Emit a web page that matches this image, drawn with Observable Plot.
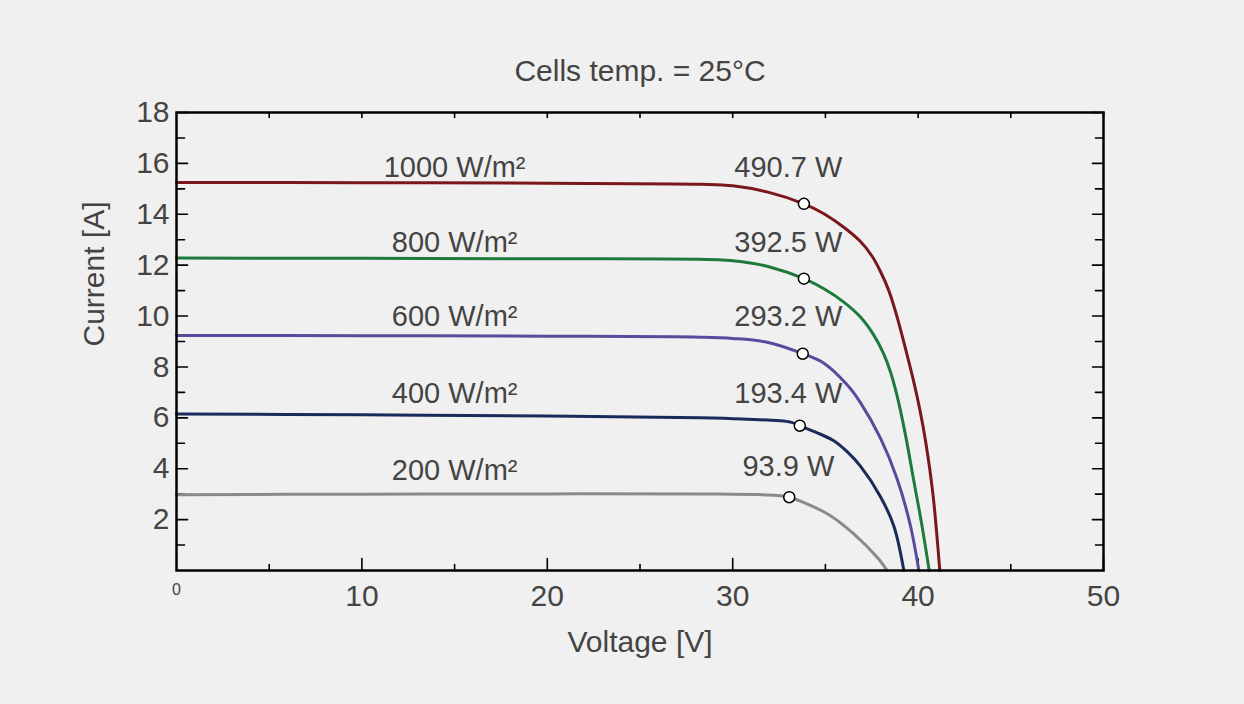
<!DOCTYPE html>
<html><head><meta charset="utf-8">
<script src="https://cdn.jsdelivr.net/npm/d3@7"></script>
<script src="https://cdn.jsdelivr.net/npm/@observablehq/plot@0.6"></script>
<style>
html,body{margin:0;padding:0;background:#f0f0f0;}
#chart svg{display:block;}
</style></head><body><div id="chart"></div>
<script>
// Series names and colours
const series = ["1000 W/m²","800 W/m²","600 W/m²","400 W/m²","200 W/m²"];
const colors = ["#7a171c","#1d7a3b","#5a4a9c","#1a2a5a","#8a8a8a"];

// I-V curves (Voltage [V], Current [A])
const v1000 = [0,10,20,28.3,30,31.9,33.84,34.92,35.99,36.89,37.52,37.97,38.42,38.87,39.32,39.77,40.1,40.4,40.8,41.17];
const i1000 = [15.25,15.24,15.22,15.18,15.12,14.87,14.41,14.02,13.49,12.93,12.35,11.75,11.0,9.96,8.72,7.4,6.3,5.1,3.0,0];
const v800 = [0,10,20,29.2,30.5,32,33.84,34.92,35.99,36.89,37.61,38.15,38.51,38.87,39.3,39.75,40.2,40.6];
const i800 = [12.28,12.27,12.25,12.21,12.13,11.93,11.47,11.07,10.55,9.96,9.25,8.5,7.8,6.85,5.4,3.6,1.8,0];
const v600 = [0,10,20,28.26,30,31.86,33.78,34.92,36.17,36.89,37.97,38.87,39.59,40.04];
const i600 = [9.24,9.23,9.21,9.17,9.12,8.97,8.52,8.15,7.3,6.6,5.2,3.6,1.75,0];
const v400 = [0,10,20,28.26,30.5,33.12,33.62,34.5,35.45,36.2,36.89,37.97,38.69,39.23];
const i400 = [6.15,6.12,6.07,6.0,5.95,5.83,5.69,5.43,5.1,4.65,4.1,2.9,1.75,0];
const v200 = [0,10,20,28.26,32.4,33.05,35.1,36.53,37.79,38.33];
const i200 = [2.98,3.0,3.01,3.01,2.95,2.88,2.23,1.44,0.52,0];

// Maximum power points
const mppV = [33.84,33.84,33.78,33.62,33.05];
const mppI = [14.41,11.47,8.52,5.69,2.88];
const powerLabels = ["490.7 W","392.5 W","293.2 W","193.4 W","93.9 W"];

// Label anchor positions (data units)
const irrLabelV = [15,15,15,15,15];
const irrLabelI = [15.84,12.9,9.96,6.96,3.93];
const powLabelV = [33,33,33,33,33];
const powLabelI = [15.83,12.9,9.96,6.95,4.09];

// Ticks
const xTicks = [10,20,30,40,50];
const xMinor = [5,15,25,35,45];
const yTicks = [2,4,6,8,10,12,14,16,18];
const yMinor = [1,3,5,7,9,11,13,15,17];

const title = "Cells temp. = 25°C";
const xLabel = "Voltage [V]";
const yLabel = "Current [A]";

const curves = [[v1000,i1000],[v800,i800],[v600,i600],[v400,i400],[v200,i200]];
const lineData = curves.flatMap(([v,i],k)=>v.map((x,j)=>({V:x,I:i[j],s:series[k]})));
const mppData = mppV.map((v,k)=>({V:v,I:mppI[k]}));
const irrData = series.map((s,k)=>({V:irrLabelV[k],I:irrLabelI[k],t:s}));
const powData = powerLabels.map((s,k)=>({V:powLabelV[k],I:powLabelI[k],t:s}));

const tickShape = {draw(ctx,l){ctx.moveTo(0,0); ctx.lineTo(0,-l);}};
const tk = (data, opts) => Plot.vector(data, {shape: tickShape, anchor: "start", stroke: "black", strokeWidth: 1.6, ...opts});

const chart = Plot.plot({
  width: 1244, height: 704,
  marginLeft: 176, marginRight: 141, marginTop: 112, marginBottom: 134,
  style: {background: "#f0f0f0", color: "#444", fontFamily: "Liberation Sans, Arial, sans-serif"},
  x: {domain: [0,50], label: null},
  y: {domain: [0,18], label: null},
  color: {domain: series, range: colors},
  marks: [
    Plot.axisX(xTicks, {tickSize: 0, tickPadding: 14, fontSize: 30, label: null}),
    Plot.axisY(yTicks, {tickSize: 0, tickPadding: 7, fontSize: 30, label: null}),
    Plot.text([{V:0,I:0,t:"0"}], {x:"V", y:"I", text:"t", dy: 19, fontSize: 16}),
    // inward ticks
    tk(yTicks, {x: 0, y: d=>d, rotate: 90, length: 11}),
    tk(yMinor, {x: 0, y: d=>d, rotate: 90, length: 8}),
    tk(yTicks, {x: 50, y: d=>d, rotate: -90, length: 11}),
    tk(yMinor, {x: 50, y: d=>d, rotate: -90, length: 8}),
    tk(xTicks, {x: d=>d, y: 0, rotate: 0, length: 12}),
    tk(xMinor, {x: d=>d, y: 0, rotate: 0, length: 6}),
    tk(xTicks.concat(xMinor), {x: d=>d, y: 18, rotate: 180, length: 5}),
    Plot.line(lineData, {x:"V", y:"I", z:"s", stroke:"s", strokeWidth: 3, curve: "catmull-rom"}),
    Plot.dot(mppData, {x:"V", y:"I", r: 5.5, fill: "white", stroke: "black", strokeWidth: 1.5}),
    Plot.text(irrData, {x:"V", y:"I", text:"t", fontSize: 29, fill: "#444"}),
    Plot.text(powData, {x:"V", y:"I", text:"t", fontSize: 29, fill: "#444"}),
    Plot.text([title], {frameAnchor: "top", lineAnchor: "middle", dy: -41, fontSize: 30, fill: "#444"}),
    Plot.text([xLabel], {frameAnchor: "bottom", lineAnchor: "middle", dy: 72, fontSize: 30, fill: "#444"}),
    Plot.text([yLabel], {frameAnchor: "left", lineAnchor: "middle", dx: -82, dy: 5, rotate: -90, fontSize: 30, fill: "#444"}),
    Plot.frame({stroke: "black", strokeWidth: 2.5})
  ]
});
document.getElementById("chart").appendChild(chart);
</script></body></html>
